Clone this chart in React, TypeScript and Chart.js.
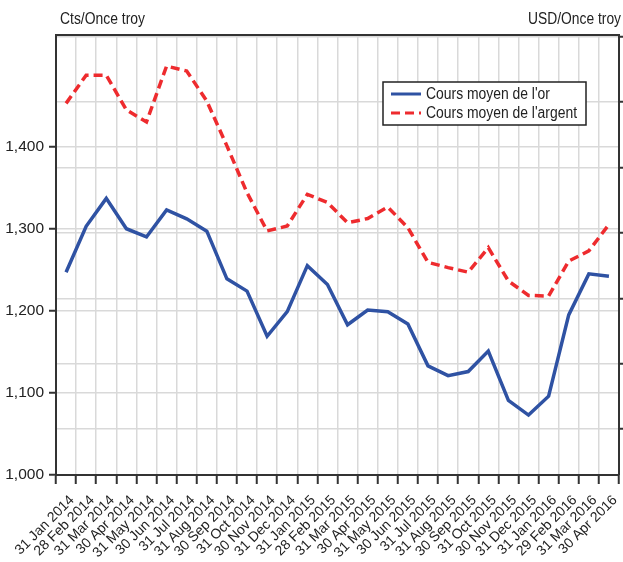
import React, { useEffect, useRef } from "react";
import { Chart, registerables } from "chart.js";

Chart.register(...registerables);

const categories = [
  "31 Jan 2014", "28 Feb 2014", "31 Mar 2014", "30 Apr 2014", "31 May 2014", "30 Jun 2014",
  "31 Jul 2014", "31 Aug 2014", "30 Sep 2014", "31 Oct 2014", "30 Nov 2014", "31 Dec 2014",
  "31 Jan 2015", "28 Feb 2015", "31 Mar 2015", "30 Apr 2015", "31 May 2015", "30 Jun 2015",
  "31 Jul 2015", "31 Aug 2015", "30 Sep 2015", "31 Oct 2015", "30 Nov 2015", "31 Dec 2015",
  "31 Jan 2016", "29 Feb 2016", "31 Mar 2016", "30 Apr 2016",
];

const goldValues = [
  1247, 1303, 1337, 1300, 1290, 1323, 1312, 1297, 1239, 1224, 1169, 1199,
  1255, 1232, 1183, 1201, 1199, 1184, 1133, 1121, 1126, 1151, 1091, 1073,
  1096, 1195, 1245, 1242,
];

const silverValues = [
  19.96, 20.82, 20.82, 19.76, 19.39, 21.1, 20.95, 20.03, 18.66, 17.23, 16.06, 16.21,
  17.18, 16.93, 16.31, 16.44, 16.79, 16.16, 15.1, 14.94, 14.8, 15.55, 14.53, 14.09,
  14.07, 15.14, 15.45, 16.26,
];

const leftTicks = [1000, 1100, 1200, 1300, 1400];
const rightTicks = [10, 12, 14, 16, 18, 20, 22];

const seriesLabels = ["Cours moyen de l'or", "Cours moyen de l'argent"];
const leftTitle = "Cts/Once troy";
const rightTitle = "USD/Once troy";

const FONT = "'Liberation Sans Narrow', 'Arial Narrow', 'Liberation Sans', Arial, sans-serif";
const BLUE = "#2f52a3";
const RED = "#ee2b2e";
const GRID = "#d9d9d9";
const AXIS = "#333333";

// draw text squeezed horizontally by a factor (narrow look)
function narrowText(ctx: any, text: string, x: number, y: number, align: "left" | "right", squeeze: number) {
  const w = ctx.measureText(text).width * squeeze;
  const startX = align === "left" ? x : x - w;
  ctx.save();
  ctx.translate(startX, y);
  ctx.scale(squeeze, 1);
  ctx.textAlign = "left";
  ctx.fillText(text, 0, 0);
  ctx.restore();
}

const overlayPlugin = {
  id: "overlay",
  afterDraw(chart: any) {
    const { ctx, chartArea } = chart;
    ctx.save();
    // top border
    ctx.strokeStyle = AXIS;
    ctx.lineWidth = 2;
    ctx.beginPath();
    ctx.moveTo(chartArea.left - 1, chartArea.top);
    ctx.lineTo(chartArea.right + 1, chartArea.top);
    ctx.stroke();

    // axis titles
    ctx.fillStyle = "#222";
    ctx.font = `16px ${FONT}`;
    ctx.textBaseline = "middle";
    narrowText(ctx, leftTitle, 60, 20, "left", 85 / ctx.measureText(leftTitle).width);
    narrowText(ctx, rightTitle, 621, 20, "right", 93 / ctx.measureText(rightTitle).width);

    // legend
    const lx = 383, ly = 82, lw = 203, lh = 43;
    ctx.fillStyle = "#ffffff";
    ctx.fillRect(lx, ly, lw, lh);
    ctx.strokeStyle = "#222";
    ctx.lineWidth = 1.5;
    ctx.strokeRect(lx, ly, lw, lh);
    const rows = [94, 113];
    ctx.font = `16px ${FONT}`;
    const squeeze = 151 / ctx.measureText(seriesLabels[1]).width;
    chart.data.datasets.forEach((ds: any, i: number) => {
      const y = rows[i];
      ctx.strokeStyle = ds.borderColor;
      ctx.lineWidth = 3;
      ctx.setLineDash(ds.borderDash || []);
      ctx.beginPath();
      ctx.moveTo(391, y);
      ctx.lineTo(421, y);
      ctx.stroke();
      ctx.setLineDash([]);
      ctx.fillStyle = "#222";
      ctx.textBaseline = "middle";
      narrowText(ctx, ds.label, 426, y + 1, "left", squeeze);
    });
    ctx.restore();
  },
};

export default function App() {
  const ref = useRef<HTMLCanvasElement | null>(null);

  useEffect(() => {
    document.body.style.margin = "0";
    const canvas = ref.current;
    if (!canvas) return;
    const chart = new Chart(canvas, {
      type: "line",
      data: {
        labels: categories,
        datasets: [
          {
            label: seriesLabels[0],
            data: goldValues,
            yAxisID: "y",
            borderColor: BLUE,
            backgroundColor: BLUE,
            borderWidth: 3.5,
            pointRadius: 0,
            tension: 0,
          },
          {
            label: seriesLabels[1],
            data: silverValues,
            yAxisID: "y1",
            borderColor: RED,
            backgroundColor: RED,
            borderWidth: 3.5,
            borderDash: [9, 5],
            pointRadius: 0,
            tension: 0,
          },
        ],
      },
      options: {
        responsive: false,
        animation: false,
        layout: { padding: { top: 35, left: 0, right: 0, bottom: 0 } },
        plugins: {
          legend: { display: false },
          tooltip: { enabled: false },
        },
        scales: {
          x: {
            type: "category",
            offset: true,
            grid: {
              offset: true,
              color: GRID,
              lineWidth: 1.5,
              tickColor: AXIS,
              tickWidth: 2,
              tickLength: 9,
            },
            border: { color: AXIS, width: 2 },
            ticks: {
              autoSkip: false,
              maxRotation: 45,
              minRotation: 45,
              padding: 8,
              labelOffset: 6,
              color: "#222",
              font: { family: FONT, size: 14 },
            },
            afterFit(scale: any) {
              scale.height = 87;
              scale.paddingLeft = 0;
              scale.paddingRight = 0;
            },
          },
          y: {
            type: "linear",
            position: "left",
            min: 1000,
            max: 1536,
            afterBuildTicks(scale: any) {
              scale.ticks = leftTicks.map((v) => ({ value: v }));
            },
            grid: {
              color: GRID,
              lineWidth: 1.5,
              tickColor: AXIS,
              tickWidth: 2,
              tickLength: 7,
            },
            border: { color: AXIS, width: 2 },
            ticks: {
              padding: 5,
              color: "#222",
              font: { family: FONT, size: 15.5 },
              callback: (v: any) => Number(v).toLocaleString("en-US"),
            },
            afterFit(scale: any) {
              scale.width = 56;
            },
          },
          y1: {
            type: "linear",
            position: "right",
            min: 8.6,
            max: 22.05,
            afterBuildTicks(scale: any) {
              scale.ticks = rightTicks.map((v) => ({ value: v }));
            },
            grid: {
              color: GRID,
              lineWidth: 1.5,
              tickColor: AXIS,
              tickWidth: 2,
              tickLength: 4,
            },
            border: { color: AXIS, width: 2 },
            ticks: { display: false },
            afterFit(scale: any) {
              scale.width = 4;
            },
          },
        },
      },
      plugins: [overlayPlugin],
    });
    return () => chart.destroy();
  }, []);

  return (
    <div style={{ width: 623, height: 562, background: "#fff" }}>
      <canvas ref={ref} width={623} height={562} style={{ display: "block" }} />
    </div>
  );
}
